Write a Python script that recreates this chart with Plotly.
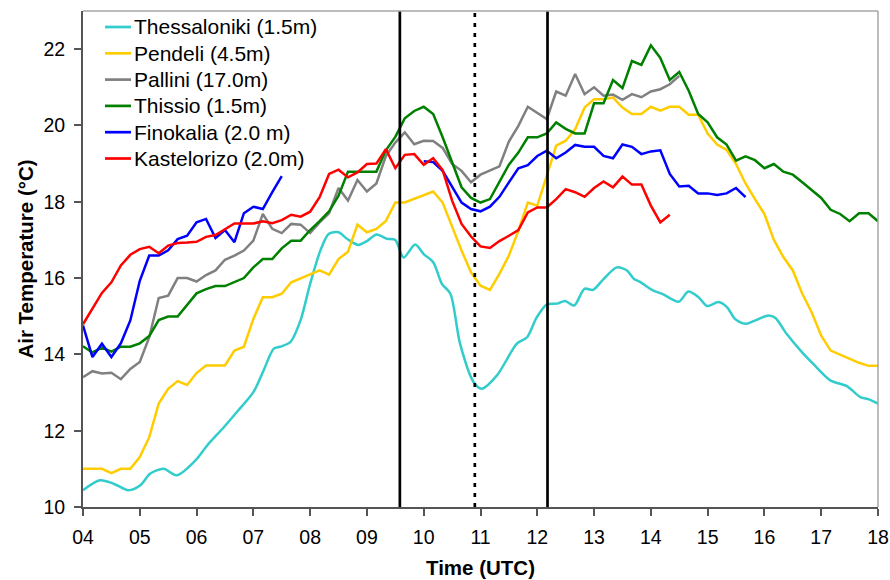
import plotly.graph_objects as go

# 10-minute sampling grid, 04:00 .. 18:00 UTC (decimal hours)
time_grid = [4 + i / 6 for i in range(85)]

tick_hours = list(range(4, 19))
tick_labels = ["04", "05", "06", "07", "08", "09", "10", "11", "12", "13", "14", "15", "16", "17", "18"]
y_ticks = [10, 12, 14, 16, 18, 20, 22]

# Eclipse contacts (first contact, maximum, last contact), decimal hours UTC
eclipse_times = [9.58, 10.90, 12.18]
eclipse_styles = ["solid", "4px,6px", "solid"]

# Thessaloniki (smooth record, own time stamps)
thess_hours = [4.0, 4.3, 4.54, 4.8, 5.01, 5.18, 5.42, 5.65, 5.98, 6.19, 6.48, 6.71, 7.0, 7.18,
               7.36, 7.47, 7.65, 7.83, 8.0, 8.18, 8.33, 8.5, 8.65, 8.85, 9.0, 9.17, 9.35, 9.5,
               9.645, 9.85, 10.0, 10.17, 10.32, 10.47, 10.64, 10.88, 11.02, 11.29, 11.64, 11.82,
               11.99, 12.17, 12.35, 12.49, 12.65, 12.83, 12.98, 13.17, 13.4, 13.58, 13.7, 13.81,
               14.02, 14.22, 14.49, 14.66, 14.84, 14.99, 15.19, 15.34, 15.48, 15.66, 15.81, 16.07,
               16.19, 16.39, 16.66, 16.86, 17.16, 17.45, 17.69, 17.84, 18.0]
thess_temp = [10.44, 10.70, 10.61, 10.44, 10.57, 10.87, 11.0, 10.83, 11.22, 11.62, 12.09, 12.49,
              13.01, 13.58, 14.15, 14.2, 14.32, 14.89, 15.85, 16.72, 17.16, 17.2, 17.03, 16.87,
              16.97, 17.14, 17.03, 17.0, 16.54, 16.88, 16.63, 16.41, 15.85, 15.59, 14.28, 13.27,
              13.1, 13.45, 14.28, 14.45, 14.97, 15.31, 15.33, 15.4, 15.28, 15.72, 15.69, 15.98,
              16.28, 16.2, 15.98, 15.9, 15.69, 15.57, 15.38, 15.65, 15.5, 15.27, 15.37, 15.24,
              14.93, 14.8, 14.87, 15.02, 14.96, 14.54, 14.06, 13.75, 13.32, 13.17, 12.88, 12.82,
              12.71]

pendeli = [11.0, 11.0, 11.0, 10.89, 11.0, 11.0, 11.31, 11.83, 12.71, 13.1, 13.3, 13.2, 13.51,
           13.71, 13.71, 13.71, 14.1, 14.2, 14.93, 15.5, 15.5, 15.59, 15.89, 15.99, 16.09, 16.2,
           16.09, 16.5, 16.69, 17.4, 17.2, 17.29, 17.5, 17.98, 17.98, 18.07, 18.16, 18.27, 17.98,
           17.33, 16.72, 16.15, 15.8, 15.69, 16.11, 16.59, 17.24, 17.98, 17.9, 18.68, 19.47, 19.6,
           19.9, 20.47, 20.69, 20.69, 20.73, 20.47, 20.3, 20.3, 20.49, 20.39, 20.49, 20.49, 20.28,
           20.28, 19.79, 19.5, 19.36, 18.99, 18.48, 18.07, 17.68, 17.0, 16.55, 16.2, 15.59, 15.1,
           14.49, 14.1, 13.99, 13.88, 13.78, 13.7, 13.7]

pallini = [13.4, 13.56, 13.5, 13.52, 13.35, 13.62, 13.8, 14.45, 15.48, 15.54, 16.0, 16.0, 15.91,
           16.08, 16.2, 16.48, 16.59, 16.72, 16.98, 17.68, 17.29, 17.18, 17.42, 17.4, 17.18, 17.46,
           17.7, 18.36, 18.03, 18.57, 18.27, 18.48, 19.2, 19.55, 19.82, 19.51, 19.6, 19.59, 19.41,
           18.99, 18.81, 18.51, 18.71, 18.81, 18.93, 19.58, 19.99, 20.49, 20.34, 20.17, 20.89,
           20.78, 21.35, 20.82, 21.0, 20.78, 20.81, 20.67, 20.82, 20.74, 20.89, 20.95, 21.08, 21.3]

thissio = [14.21, 14.05, 14.18, 14.07, 14.2, 14.2, 14.29, 14.48, 14.9, 14.99, 14.99, 15.31, 15.6,
           15.71, 15.79, 15.79, 15.9, 16.0, 16.28, 16.5, 16.5, 16.78, 16.98, 16.98, 17.26, 17.49,
           17.75, 18.16, 18.79, 18.79, 18.79, 18.79, 19.35, 19.7, 20.19, 20.38, 20.49, 20.3, 19.69,
           19.03, 18.38, 18.1, 17.98, 18.07, 18.51, 18.97, 19.29, 19.69, 19.69, 19.79, 20.08,
           19.91, 19.79, 19.79, 20.58, 20.58, 21.19, 20.98, 21.69, 21.59, 22.1, 21.77, 21.19, 21.4,
           20.91, 20.3, 20.08, 19.69, 19.5, 19.08, 19.19, 19.09, 18.88, 18.99, 18.79, 18.71, 18.51,
           18.31, 18.1, 17.79, 17.68, 17.49, 17.7, 17.7, 17.49]

finokalia = [14.76, 13.93, 14.28, 13.93, 14.29, 14.89, 15.93, 16.59, 16.59, 16.73, 17.02, 17.11,
             17.46, 17.55, 17.05, 17.26, 16.94, 17.7, 17.87, 17.81, 18.25, 18.67,
             None, None, None, None, None, None, None, None, None, None, None, None, None, None,
             19.06, 19.04, 18.81, 18.38, 17.98, 17.81, 17.75, 17.87, 18.13, 18.51, 18.88, 18.96,
             19.2, 19.34, 19.14, 19.29, 19.49, 19.44, 19.44, 19.2, 19.14, 19.5, 19.44, 19.25,
             19.32, 19.35, 18.73, 18.4, 18.42, 18.22, 18.22, 18.18, 18.22, 18.36, 18.12]

kastelorizo = [14.79, 15.19, 15.61, 15.89, 16.33, 16.61, 16.76, 16.82, 16.65, 16.85, 16.92, 16.93,
               16.95, 17.08, 17.13, 17.28, 17.43, 17.43, 17.43, 17.49, 17.44, 17.52, 17.66, 17.61,
               17.74, 18.12, 18.73, 18.84, 18.64, 18.77, 18.99, 19.0, 19.38, 18.88, 19.23, 19.25,
               18.97, 19.14, 18.83, 18.03, 17.42, 17.09, 16.83, 16.79, 16.97, 17.11, 17.26, 17.72,
               17.85, 17.85, 18.07, 18.33, 18.25, 18.13, 18.36, 18.53, 18.38, 18.66, 18.45, 18.45,
               17.9, 17.46, 17.66]

series = [
    ("Thessaloniki (1.5m)", thess_hours, thess_temp, "#33CCCC", "spline"),
    ("Pendeli (4.5m)", time_grid[:len(pendeli)], pendeli, "#FFCC00", "linear"),
    ("Pallini (17.0m)", time_grid[:len(pallini)], pallini, "#808080", "linear"),
    ("Thissio (1.5m)", time_grid[:len(thissio)], thissio, "#008000", "linear"),
    ("Finokalia (2.0 m)", time_grid[:len(finokalia)], finokalia, "#0000FF", "linear"),
    ("Kastelorizo (2.0m)", time_grid[:len(kastelorizo)], kastelorizo, "#FF0000", "linear"),
]

# plot-area geometry in pixels
W, H = 890, 580
ML, MR, MT, MB = 83, 12, 11, 73
PW, PH = W - ML - MR, H - MT - MB

def px_x(px):
    return (px - ML) / PW

def px_y(py):
    return (H - MB - py) / PH

fig = go.Figure()
for name, xs, ys, color, shape in series:
    fig.add_trace(go.Scatter(
        x=xs, y=ys, name=name, mode="lines",
        line=dict(color=color, width=2.5, shape=shape, smoothing=0.8 if shape == "spline" else None),
        connectgaps=False, showlegend=False,
    ))

for t, dash in zip(eclipse_times, eclipse_styles):
    fig.add_shape(type="line", xref="x", yref="paper", x0=t, x1=t, y0=0, y1=1,
                  line=dict(color="black", width=2.7, dash=dash), layer="above")

# light frame on top and right
fig.add_shape(type="line", xref="paper", yref="paper", x0=0, x1=1, y0=1, y1=1,
              line=dict(color="#A6A6A6", width=1.5))
fig.add_shape(type="line", xref="paper", yref="paper", x0=1, x1=1, y0=0, y1=1,
              line=dict(color="#A6A6A6", width=1.5))

# legend (drawn in the upper-left corner of the plot area)
font_family = "Liberation Sans, Arial, sans-serif"
for i, (name, _, _, color, _) in enumerate(series):
    row_y = px_y(27 + i * 26.3)
    fig.add_shape(type="line", xref="paper", yref="paper",
                  x0=px_x(105), x1=px_x(131), y0=row_y, y1=row_y,
                  line=dict(color=color, width=2.7))
    fig.add_annotation(xref="paper", yref="paper", x=px_x(132), y=row_y,
                       xanchor="left", yanchor="middle", text=name, showarrow=False,
                       font=dict(size=21, color="black", family=font_family))

fig.update_layout(
    width=W, height=H,
    margin=dict(l=ML, r=MR, t=MT, b=MB, autoexpand=False),
    paper_bgcolor="white", plot_bgcolor="white",
    font=dict(family=font_family, color="black", size=19),
    showlegend=False,
    xaxis=dict(
        range=[4, 18], tickmode="array", tickvals=tick_hours, ticktext=tick_labels,
        showgrid=False, zeroline=False, showline=True, linecolor="#555555", linewidth=2,
        ticks="outside", ticklen=7, tickwidth=1.5, tickcolor="#555555",
        tickfont=dict(size=19.5), ticklabelstandoff=5, automargin=False,
        title=dict(text="<b>Time (UTC)</b>", font=dict(size=20.5), standoff=13),
    ),
    yaxis=dict(
        range=[10, 23], tickmode="array", tickvals=y_ticks,
        showgrid=False, zeroline=False, showline=True, linecolor="#555555", linewidth=2,
        ticks="outside", ticklen=7, tickwidth=1.5, tickcolor="#555555",
        tickfont=dict(size=19.5), ticklabelstandoff=5, automargin=False,
        title=dict(text="<b>Air Temperature (°C)</b>", font=dict(size=20.5), standoff=4),
    ),
)

# remove the browser's default 8px page margin so the figure sits at the window origin
fig.write_html("out.html", config={"displayModeBar": False},
               post_script="document.body.style.margin='0px';")
